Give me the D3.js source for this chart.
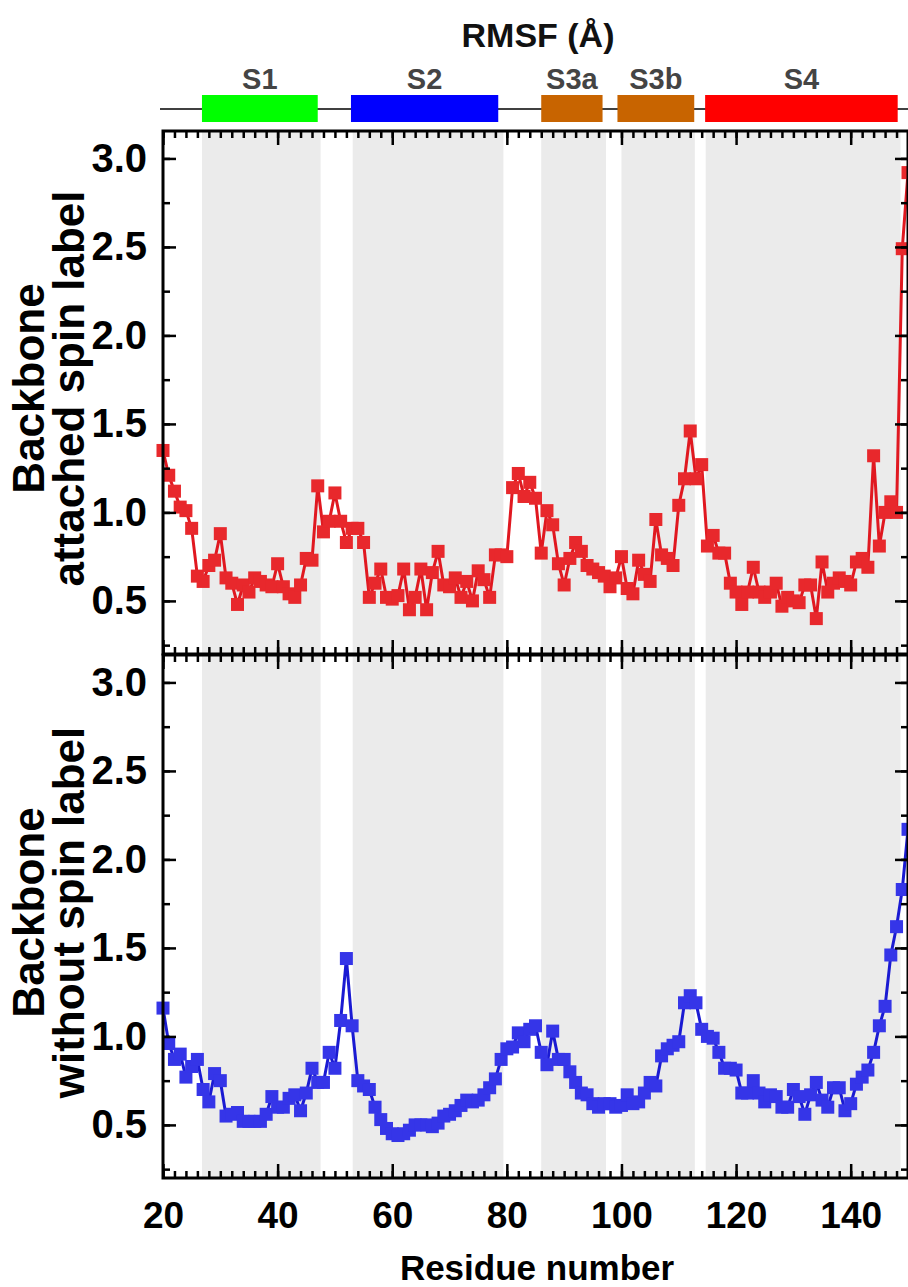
<!DOCTYPE html>
<html lang="en">
<head>
<meta charset="UTF-8" />
<title>RMSF per residue</title>
<script src="https://d3js.org/d3.v7.min.js"></script>
<style>
  body { margin: 0; background: #fff; }
  svg text { font-family: "Liberation Sans", Arial, sans-serif; font-weight: bold; }
</style>
</head>
<body>
<svg id="chart" width="908" height="1287"></svg>
<script>
// ---- data ----
const firstResidue = 20;

// RMSF (Å), backbone with the spin label attached (residues 20..150)
const rmsfAttached = [
  1.35, 1.21, 1.12, 1.03, 1.01, 0.91, 0.64, 0.61, 0.70, 0.73,
  0.88, 0.63, 0.60, 0.48, 0.59, 0.55, 0.63, 0.61, 0.59, 0.58,
  0.71, 0.58, 0.54, 0.52, 0.59, 0.74, 0.73, 1.15, 0.89, 0.95,
  1.11, 0.95, 0.83, 0.91, 0.91, 0.83, 0.52, 0.60, 0.68, 0.52,
  0.51, 0.53, 0.68, 0.45, 0.52, 0.68, 0.45, 0.66, 0.78, 0.59,
  0.58, 0.63, 0.52, 0.61, 0.50, 0.67, 0.62, 0.52, 0.76, 0.76,
  0.75, 1.14, 1.22, 1.09, 1.17, 1.08, 0.77, 1.01, 0.93, 0.71,
  0.59, 0.74, 0.83, 0.78, 0.70, 0.68, 0.66, 0.64, 0.58, 0.63,
  0.75, 0.57, 0.54, 0.73, 0.65, 0.61, 0.96, 0.76, 0.74, 0.70,
  1.04, 1.19, 1.46, 1.19, 1.27, 0.81, 0.87, 0.77, 0.77, 0.60,
  0.55, 0.48, 0.55, 0.69, 0.55, 0.52, 0.55, 0.60, 0.47, 0.52,
  0.50, 0.49, 0.59, 0.59, 0.40, 0.72, 0.55, 0.60, 0.63, 0.61,
  0.59, 0.72, 0.74, 0.69, 1.32, 0.81, 1.00, 1.06, 1.00, 2.49,
  2.92
];

// RMSF (Å), backbone without spin label (residues 20..150)
const rmsfWithout = [
  1.16, 0.96, 0.87, 0.90, 0.77, 0.83, 0.87, 0.70, 0.63, 0.79,
  0.75, 0.55, 0.56, 0.57, 0.52, 0.52, 0.52, 0.52, 0.56, 0.66,
  0.60, 0.60, 0.65, 0.67, 0.58, 0.68, 0.82, 0.74, 0.74, 0.91,
  0.82, 1.09, 1.44, 1.06, 0.75, 0.72, 0.70, 0.60, 0.53, 0.48,
  0.45, 0.44, 0.45, 0.47, 0.50, 0.50, 0.50, 0.49, 0.51, 0.55,
  0.56, 0.58, 0.61, 0.64, 0.63, 0.64, 0.67, 0.71, 0.76, 0.87,
  0.93, 0.94, 1.02, 0.97, 1.04, 1.06, 0.91, 0.84, 1.03, 0.87,
  0.87, 0.80, 0.74, 0.68, 0.67, 0.62, 0.60, 0.62, 0.62, 0.60,
  0.61, 0.67, 0.62, 0.63, 0.68, 0.74, 0.72, 0.89, 0.93, 0.95,
  0.97, 1.19, 1.23, 1.19, 1.04, 1.00, 0.99, 0.91, 0.82, 0.82,
  0.81, 0.68, 0.68, 0.75, 0.68, 0.63, 0.67, 0.66, 0.60, 0.60,
  0.70, 0.66, 0.56, 0.67, 0.74, 0.64, 0.60, 0.71, 0.71, 0.58,
  0.62, 0.73, 0.77, 0.81, 0.91, 1.06, 1.17, 1.46, 1.62, 1.83,
  2.17
];

// secondary structure segments (header bars) and shaded bands, in residues
const segmentNames = ["S1", "S2", "S3a", "S3b", "S4"];
const segmentStart = [26.8, 52.8, 86.0, 99.3, 114.6];
const segmentEnd   = [47.0, 78.5, 96.7, 112.7, 148.2];
const bandStart = [26.8, 53.1, 86.0, 100.0, 114.7];
const bandEnd   = [47.5, 79.4, 97.3, 112.8, 148.7];

const xTickLabels = [20, 40, 60, 80, 100, 120, 140];
const yTickLabels = [0.5, 1.0, 1.5, 2.0, 2.5, 3.0];
const xDomain = [20, 150];
const yDomain = [0.2, 3.155];

const titleText = "RMSF (Å)";
const xTitle = "Residue number";
const panelTitles = [["Backbone", "attached spin label"], ["Backbone", "without spin label"]];

// ---- styles ----
const segmentColors = ["#00ff00", "#0000ff", "#c86400", "#c86400", "#ff0000"];
const bandColor = "#ebebeb";

const svg = d3.select("#chart");
const left = 163, right = 908;
const panelH = 523;
const panelTops = [131, 655];

const x = d3.scaleLinear().domain(xDomain).range([left, right]);
const xMinor = d3.range(20, 151, 2);
const yMinor = d3.range(0.25, 3.01, 0.25);

// header: title, structure line, bars
svg.append("text")
  .attr("x", 538).attr("y", 47)
  .attr("text-anchor", "middle")
  .attr("font-size", 34).attr("fill", "#111")
  .text(titleText);

svg.append("line")
  .attr("x1", 160).attr("x2", 908)
  .attr("y1", 109).attr("y2", 109)
  .attr("stroke", "#000").attr("stroke-width", 1.5);

segmentNames.forEach((name, i) => {
  svg.append("rect")
    .attr("x", x(segmentStart[i]))
    .attr("width", x(segmentEnd[i]) - x(segmentStart[i]))
    .attr("y", 95).attr("height", 27)
    .attr("fill", segmentColors[i]);
  svg.append("text")
    .attr("x", (x(segmentStart[i]) + x(segmentEnd[i])) / 2)
    .attr("y", 89)
    .attr("text-anchor", "middle")
    .attr("font-size", 29).attr("fill", "#444")
    .text(name);
});

function drawPanel(values, top, fill, stroke, titleLines, showXLabels) {
  const y = d3.scaleLinear().domain(yDomain).range([top + panelH, top]);
  const g = svg.append("g");

  // shaded bands
  g.selectAll("rect.band")
    .data(bandStart)
    .enter().append("rect")
    .attr("class", "band")
    .attr("x", (d, i) => x(d))
    .attr("width", (d, i) => x(bandEnd[i]) - x(d))
    .attr("y", top).attr("height", panelH)
    .attr("fill", bandColor);

  const pts = values.map((v, i) => ({ r: firstResidue + i, v: v }));

  g.append("path")
    .datum(pts)
    .attr("fill", "none")
    .attr("stroke", stroke)
    .attr("stroke-width", 3)
    .attr("d", d3.line().x(d => x(d.r)).y(d => y(d.v)));

  g.selectAll("rect.pt")
    .data(pts)
    .enter().append("rect")
    .attr("class", "pt")
    .attr("x", d => x(d.r) - 6.5)
    .attr("y", d => y(d.v) - 6.5)
    .attr("width", 13).attr("height", 13)
    .attr("fill", fill);

  // axes, ticks pointing inward
  const axes = [];
  const yLab = g.append("g").attr("transform", `translate(${left},0)`)
    .call(d3.axisLeft(y).tickValues(yTickLabels).tickSize(-13).tickPadding(16)
      .tickFormat(d3.format(".1f")));
  yLab.selectAll(".tick text").attr("font-size", 40);
  axes.push(yLab);
  axes.push(g.append("g").attr("transform", `translate(${left},0)`)
    .call(d3.axisLeft(y).tickValues(yMinor).tickSize(-7).tickFormat("")));
  axes.push(g.append("g").attr("transform", `translate(${right},0)`)
    .call(d3.axisRight(y).tickValues(yTickLabels).tickSize(-13).tickFormat("")));
  axes.push(g.append("g").attr("transform", `translate(${right},0)`)
    .call(d3.axisRight(y).tickValues(yMinor).tickSize(-7).tickFormat("")));
  axes.push(g.append("g").attr("transform", `translate(0,${top})`)
    .call(d3.axisTop(x).tickValues(xTickLabels).tickSize(-14).tickFormat("")));
  axes.push(g.append("g").attr("transform", `translate(0,${top})`)
    .call(d3.axisTop(x).tickValues(xMinor).tickSize(-7).tickFormat("")));
  const bottomAxis = d3.axisBottom(x).tickValues(xTickLabels).tickSize(-14).tickPadding(24);
  if (!showXLabels) bottomAxis.tickFormat("");
  const xLab = g.append("g").attr("transform", `translate(0,${top + panelH})`)
    .call(bottomAxis);
  xLab.selectAll(".tick text").attr("font-size", 37);
  axes.push(xLab);
  axes.push(g.append("g").attr("transform", `translate(0,${top + panelH})`)
    .call(d3.axisBottom(x).tickValues(xMinor).tickSize(-7).tickFormat("")));

  axes.forEach(a => {
    a.select(".domain").remove();
    a.selectAll(".tick line").attr("stroke", "#000").attr("stroke-width", 2.5);
    a.selectAll(".tick text")
      .attr("fill", "#000")
      .style("font-family", '"Liberation Sans", Arial, sans-serif')
      .style("font-weight", "bold");
  });

  // frame
  g.append("rect")
    .attr("x", left).attr("y", top)
    .attr("width", right - left).attr("height", panelH)
    .attr("fill", "none").attr("stroke", "#000").attr("stroke-width", 3);

  // rotated y title, two lines
  const cy = top + panelH / 2 - 4;
  [44, 84].forEach((bx, i) => {
    svg.append("text")
      .attr("transform", `translate(${bx},${cy}) rotate(-90)`)
      .attr("text-anchor", "middle")
      .attr("font-size", 44).attr("fill", "#000")
      .text(titleLines[i]);
  });
}

drawPanel(rmsfAttached, panelTops[0], "#e8282c", "#e01820", panelTitles[0], false);
drawPanel(rmsfWithout, panelTops[1], "#3535e8", "#1a1ad2", panelTitles[1], true);

svg.append("text")
  .attr("x", 537).attr("y", 1280)
  .attr("text-anchor", "middle")
  .attr("font-size", 35).attr("fill", "#000")
  .text(xTitle);
</script>
</body>
</html>
